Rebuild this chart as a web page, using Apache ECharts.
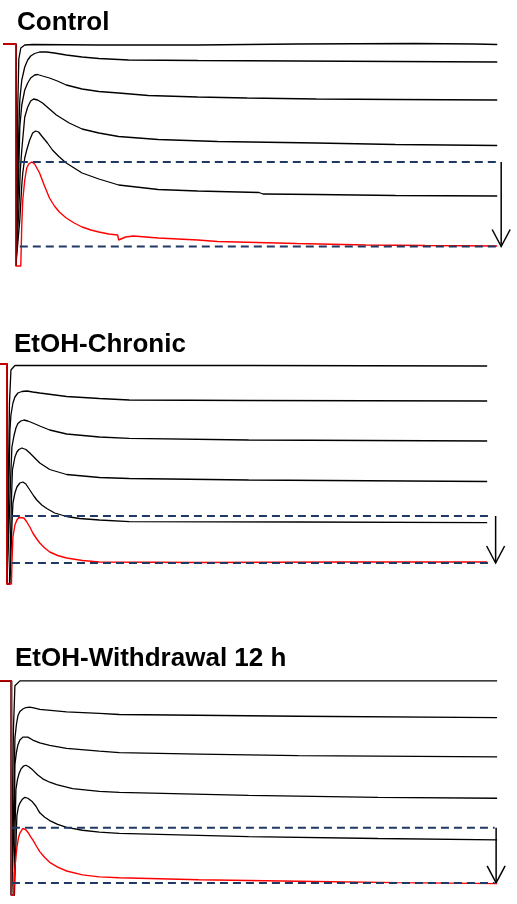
<!DOCTYPE html>
<html>
<head>
<meta charset="utf-8">
<script src="https://cdn.jsdelivr.net/npm/echarts@6/dist/echarts.min.js"></script>
<style>
  html, body { margin: 0; padding: 0; background: #ffffff; }
  #chart { width: 517px; height: 904px; }
</style>
</head>
<body>
<div id="chart"></div>
<script>
// Whole-cell current families, three conditions.
// Each trace is a list of [time (ms), current (pA)] samples; 0 pA is the holding baseline.

const panelTitles = ['Control', 'EtOH-Chronic', 'EtOH-Withdrawal 12 h'];

// ---- Control ----
const ctlBlack1 = [[0,0],[26,0],[26,-2220],[28,-2220],[30,-600],[32,-150],[36,-40],[44,-10],[60,-5],[194,-10],[394,-10],[594,0],[834,5],[954,0],[1000,-5]];
const ctlBlack2 = [[0,0],[26,0],[26,-2220],[28,-2220],[30,-1360],[32,-860],[34,-560],[38,-360],[44,-230],[50,-160],[56,-120],[64,-95],[74,-80],[88,-80],[104,-90],[128,-110],[160,-130],[194,-145],[254,-160],[394,-165],[594,-170],[794,-175],[1000,-180]];
const ctlBlack3 = [[0,0],[26,0],[26,-2220],[28,-2220],[31,-1460],[34,-830],[38,-610],[40,-560],[44,-460],[50,-390],[56,-340],[64,-310],[70,-305],[80,-320],[94,-340],[110,-370],[128,-410],[160,-450],[194,-475],[234,-490],[294,-515],[394,-530],[494,-540],[634,-550],[794,-555],[1000,-560]];
const ctlBlack4 = [[0,0],[26,0],[26,-2220],[29,-2220],[32,-1660],[35,-1260],[38,-1060],[44,-730],[50,-630],[56,-570],[62,-550],[70,-560],[80,-590],[94,-650],[108,-710],[134,-790],[160,-850],[194,-890],[234,-925],[314,-955],[434,-975],[634,-990],[794,-1005],[1000,-1015]];
const ctlBlack5 = [[0,0],[26,0],[26,-2220],[30,-2220],[34,-1760],[38,-1410],[40,-1290],[44,-1140],[48,-1060],[54,-960],[60,-890],[66,-870],[72,-880],[80,-930],[90,-990],[100,-1060],[114,-1130],[128,-1190],[144,-1240],[160,-1290],[194,-1350],[234,-1410],[314,-1455],[394,-1470],[518,-1485],[526,-1500],[634,-1505],[794,-1515],[1000,-1520]];
const ctlRed = [[0,0],[26,0],[26,-2220],[36,-2220],[38,-1810],[40,-1560],[44,-1360],[48,-1240],[52,-1200],[58,-1180],[64,-1200],[74,-1290],[84,-1420],[94,-1540],[104,-1620],[114,-1680],[128,-1740],[144,-1790],[160,-1830],[178,-1860],[194,-1880],[214,-1900],[232,-1910],[234,-1960],[238,-1950],[248,-1930],[264,-1920],[314,-1940],[394,-1960],[434,-1975],[514,-1985],[594,-1995],[734,-2010],[854,-2015],[1000,-2020]];
const ctlLevels = [-1180, -2025];      // red peak, red steady state
const ctlGuideSpan = [34, 1000];       // ms
const ctlArrowTime = 1008;             // ms

// ---- EtOH-Chronic ----
const chrBlack1 = [[0,0],[14,0],[14,-2200],[17,-2200],[19,-400],[22,-60],[30,-15],[200,-15],[500,-15],[980,-20]];
const chrBlack2 = [[0,0],[14,0],[14,-2200],[17,-2200],[20,-660],[22,-510],[26,-390],[30,-330],[36,-290],[44,-275],[54,-270],[66,-280],[80,-290],[134,-325],[200,-345],[260,-360],[500,-365],[980,-370]];
const chrBlack3 = [[0,0],[14,0],[14,-2200],[18,-2200],[22,-1060],[24,-830],[28,-720],[32,-640],[36,-595],[42,-570],[48,-560],[56,-570],[66,-590],[80,-620],[100,-660],[134,-700],[200,-730],[260,-743],[500,-760],[980,-770]];
const chrBlack4 = [[0,0],[14,0],[14,-2200],[19,-2200],[23,-1360],[25,-1060],[30,-930],[34,-880],[38,-855],[44,-840],[52,-855],[60,-890],[70,-940],[80,-990],[100,-1055],[134,-1105],[200,-1135],[260,-1145],[500,-1160],[980,-1175]];
const chrBlack5 = [[0,0],[14,0],[14,-2200],[20,-2200],[24,-1610],[26,-1390],[30,-1290],[34,-1230],[40,-1190],[46,-1180],[52,-1200],[60,-1260],[68,-1320],[74,-1360],[84,-1410],[94,-1445],[110,-1490],[134,-1525],[160,-1545],[200,-1560],[260,-1577],[600,-1580],[980,-1587]];
const chrRed = [[0,0],[14,0],[14,-2200],[23,-2200],[24,-1990],[26,-1730],[30,-1610],[34,-1560],[38,-1535],[42,-1520],[48,-1540],[54,-1580],[60,-1630],[66,-1690],[74,-1750],[80,-1790],[90,-1840],[100,-1880],[116,-1915],[134,-1940],[166,-1965],[200,-1980],[400,-1985],[700,-1980],[980,-1980]];
const chrLevels = [-1520, -1990];
const chrGuideSpan = [24, 986];
const chrArrowTime = 997;

// ---- EtOH-Withdrawal 12 h ----
const wdlBlack1 = [[0,0],[23,0],[23,-2210],[25,-2210],[27,-500],[30,-50],[40,0],[200,0],[600,0],[1000,0]];
const wdlBlack2 = [[0,0],[23,0],[23,-2210],[26,-2210],[28,-1190],[30,-590],[33,-450],[36,-360],[40,-315],[46,-290],[52,-275],[60,-270],[70,-280],[80,-295],[134,-320],[200,-335],[240,-347],[600,-365],[1000,-380]];
const wdlBlack3 = [[0,0],[23,0],[23,-2210],[27,-2210],[29,-1390],[30,-860],[33,-740],[36,-660],[40,-610],[46,-580],[50,-570],[56,-580],[66,-610],[80,-640],[100,-665],[134,-695],[200,-725],[240,-740],[400,-755],[600,-770],[1000,-783]];
const wdlBlack4 = [[0,0],[23,0],[23,-2210],[28,-2210],[30,-1590],[32,-1120],[35,-1020],[38,-960],[42,-910],[47,-880],[52,-870],[58,-885],[66,-920],[76,-970],[86,-1010],[100,-1045],[114,-1070],[146,-1110],[200,-1140],[240,-1150],[500,-1180],[760,-1200],[1000,-1210]];
const wdlBlack5 = [[0,0],[23,0],[23,-2210],[29,-2210],[32,-1690],[34,-1390],[37,-1300],[40,-1260],[45,-1220],[50,-1200],[56,-1210],[64,-1240],[72,-1290],[80,-1360],[90,-1405],[100,-1440],[116,-1480],[134,-1510],[166,-1540],[200,-1560],[240,-1573],[500,-1605],[760,-1625],[1000,-1640]];
const wdlRed = [[0,0],[23,0],[23,-2210],[28,-2210],[29,-1990],[32,-1810],[34,-1720],[37,-1620],[40,-1570],[46,-1520],[52,-1535],[56,-1560],[62,-1610],[66,-1640],[74,-1710],[80,-1760],[90,-1820],[100,-1870],[116,-1920],[134,-1960],[166,-2000],[200,-2020],[240,-2030],[400,-2050],[600,-2065],[800,-2080],[1000,-2090]];
const wdlLevels = [-1515, -2083];
const wdlGuideSpan = [24, 995];
const wdlArrowTime = 998;

const panels = [
  { title: panelTitles[0], black: [ctlBlack1, ctlBlack2, ctlBlack3, ctlBlack4, ctlBlack5], red: ctlRed, levels: ctlLevels, span: ctlGuideSpan, arrowT: ctlArrowTime },
  { title: panelTitles[1], black: [chrBlack1, chrBlack2, chrBlack3, chrBlack4, chrBlack5], red: chrRed, levels: chrLevels, span: chrGuideSpan, arrowT: chrArrowTime },
  { title: panelTitles[2], black: [wdlBlack1, wdlBlack2, wdlBlack3, wdlBlack4, wdlBlack5], red: wdlRed, levels: wdlLevels, span: wdlGuideSpan, arrowT: wdlArrowTime }
];

// Plot-area placement of each panel (pixels)
const layout = [
  { left: 3, top: 39, titleLeft: 17, titleTop: 10 },
  { left: 0, top: 359, titleLeft: 14, titleTop: 332 },
  { left: 0, top: 676, titleLeft: 15, titleTop: 646 }
];

const T_MAX = 1040, I_MIN = -2300, I_MAX = 50;

const option = {
  animation: false,
  backgroundColor: '#ffffff',
  title: panels.map((p, i) => ({
    text: p.title,
    left: layout[i].titleLeft,
    top: layout[i].titleTop,
    padding: 0,
    textStyle: { fontFamily: 'Liberation Sans, Arial, sans-serif', fontWeight: 'bold', fontSize: 26, color: '#000000' }
  })),
  grid: layout.map(l => ({ left: l.left, top: l.top, width: 520, height: 235, containLabel: false })),
  xAxis: panels.map((p, i) => ({ type: 'value', gridIndex: i, min: 0, max: T_MAX, show: false })),
  yAxis: panels.map((p, i) => ({ type: 'value', gridIndex: i, min: I_MIN, max: I_MAX, show: false })),
  series: []
};

function arrowRenderer(params, api) {
  const top = api.coord([api.value(0), api.value(1)]);
  const bot = api.coord([api.value(0), api.value(2)]);
  const style = { stroke: '#000000', lineWidth: 1.5, fill: null };
  return {
    type: 'group',
    children: [
      { type: 'line', shape: { x1: top[0], y1: top[1], x2: bot[0], y2: bot[1] }, style },
      { type: 'polyline', shape: { points: [[bot[0] - 9, bot[1] - 17], [bot[0], bot[1]], [bot[0] + 9, bot[1] - 17]] }, style }
    ]
  };
}

panels.forEach((p, i) => {
  p.black.forEach(trace => {
    option.series.push({
      type: 'line', xAxisIndex: i, yAxisIndex: i, data: trace,
      showSymbol: false, symbol: 'none', clip: false, silent: true,
      lineStyle: { color: '#000000', width: 1.3 }
    });
  });
  option.series.push({
    type: 'line', xAxisIndex: i, yAxisIndex: i, data: p.red,
    showSymbol: false, symbol: 'none', clip: false, silent: true,
    lineStyle: { color: '#ff0000', width: 1.4 }
  });
  p.levels.forEach(level => {
    option.series.push({
      type: 'line', xAxisIndex: i, yAxisIndex: i,
      data: [[p.span[0], level], [p.span[1], level]],
      showSymbol: false, symbol: 'none', clip: false, silent: true,
      lineStyle: { color: '#1f3864', width: 2, type: [8, 5] }
    });
  });
  option.series.push({
    type: 'custom', xAxisIndex: i, yAxisIndex: i, clip: false, silent: true,
    renderItem: arrowRenderer,
    data: [[p.arrowT, p.levels[0], p.levels[1]]]
  });
});

const chart = echarts.init(document.getElementById('chart'), null, { renderer: 'canvas' });
chart.setOption(option);
</script>
</body>
</html>
